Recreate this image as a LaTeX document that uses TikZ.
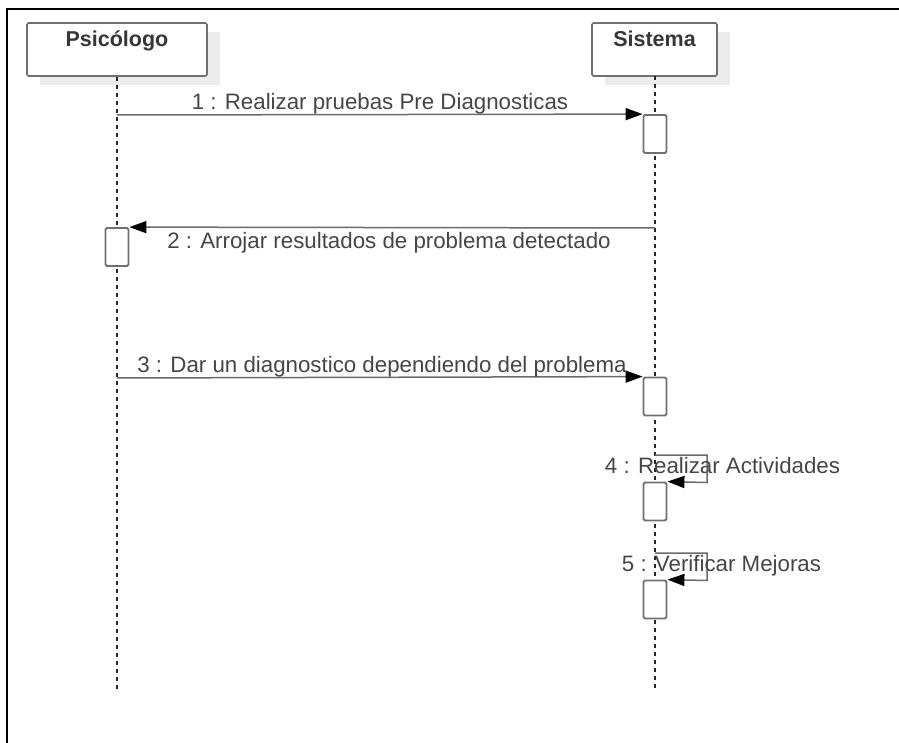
\documentclass[tikz,border=0pt]{standalone}
\usepackage{fontspec}
\setmainfont{Liberation Sans}
\usetikzlibrary{arrows.meta}
\definecolor{txtgray}{HTML}{454545}
\definecolor{linegray}{HTML}{6A6A6A}
\definecolor{boxgray}{HTML}{707070}
\definecolor{shadowgray}{HTML}{ECECEC}
\tikzset{
  headbox/.style={draw=boxgray, line width=1.6pt, fill=white, rounded corners=1.5pt, minimum width=180pt, minimum height=53pt, inner sep=0pt},
  shadowbox/.style={fill=shadowgray, minimum width=180pt, minimum height=53pt, inner sep=0pt},
  headtext/.style={font=\fontsize{21.5}{25}\selectfont\bfseries, text=txtgray!80!black, inner sep=0pt, anchor=north},
  lifeline/.style={dash pattern=on 4pt off 4pt, line width=1.6pt, black!85},
  actbox/.style={draw=boxgray, line width=1.8pt, fill=white, rounded corners=1.5pt, minimum width=23pt, minimum height=38pt, inner sep=0pt},
  msg/.style={draw=linegray, line width=1.5pt, -{Triangle[length=17pt,width=12pt,fill=black,color=black]}},
  msglabel/.style={font=\fontsize{22.3}{26}\selectfont, text=txtgray, inner sep=0pt},
}
\begin{document}
\begin{tikzpicture}[x=1pt,y=-1pt]
\useasboundingbox (0,0) rectangle (899,743);
% frame
\draw[line width=2pt, black] (7,743) -- (7,9) -- (899,9);

% shadows and headers
\node[shadowbox] (pshadow) at (130,58.5) {};
\node[shadowbox, minimum width=125pt] (sshadow) at (667,58.5) {};
\node[headbox] (pbox) at (117,49.5) {};
\node[headbox, minimum width=125pt] (sbox) at (654.5,49.5) {};
\node[headtext] (ptext) at (117,31) {Psicólogo};
\node[headtext] (stext) at (654.5,31) {Sistema};

% lifeline ends
\coordinate (pend) at (117,690);
\coordinate (send) at (655,690);
\draw[lifeline] (pbox.south) -- (pend);
\draw[lifeline] (655,76) -- (send);

% activation boxes
\node[actbox] (a1) at (655,134) {};
\node[actbox] (a2) at (117,247) {};
\node[actbox] (a3) at (655,396.5) {};
\node[actbox] (a4) at (655,501.5) {};
\node[actbox] (a5) at (655,599.5) {};

% message 1
\coordinate (m1s) at (117,115);
\draw[msg] (m1s) -- (a1.north west);
\node[msglabel, anchor=base] (l1) at (380,110) {1 : Realizar pruebas Pre Diagnosticas};

% message 2
\coordinate (m2s) at (655,228);
\draw[msg] (m2s) -- (a2.north east);
\node[msglabel, anchor=base] (l2) at (389,249) {2 : Arrojar resultados de problema detectado};

% message 3
\coordinate (m3s) at (117,378);
\draw[msg] (m3s) -- (a3.north west);
\node[msglabel, anchor=base] (l3) at (382,372) {3 : Dar un diagnostico dependiendo del problema};

% message 4 (self)
\coordinate (m4s) at (655,455);
\coordinate (m4c1) at (707,455);
\coordinate (m4c2) at (707,482.5);
\draw[msg] (m4s) -- (m4c1) -- (m4c2) -- (a4.north east);
\node[msglabel, anchor=base] (l4) at (722.5,473) {4 : Realizar Actividades};

% message 5 (self)
\coordinate (m5s) at (655,553);
\coordinate (m5c1) at (707,553);
\coordinate (m5c2) at (707,580.5);
\draw[msg] (m5s) -- (m5c1) -- (m5c2) -- (a5.north east);
\node[msglabel, anchor=base] (l5) at (721.5,571) {5 : Verificar Mejoras};
\end{tikzpicture}
\end{document}
